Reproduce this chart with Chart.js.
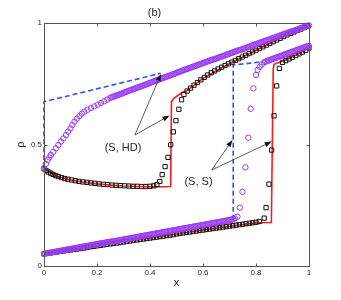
<!DOCTYPE html>
<html><head><meta charset="utf-8">
<script src="https://cdn.jsdelivr.net/npm/chart.js@4/dist/chart.umd.min.js"></script>
<style>html,body{margin:0;padding:0;background:#fff}#wrap{width:341px;height:300px;position:relative}</style>
</head><body><div id="wrap"><canvas id="c"></canvas></div>
<script>
// ---------- data ----------
const xTickLabels = ['0','0.2','0.4','0.6','0.8','1'];
const yTickLabels = ['0','0.5','1'];

// (S, HD): open purple circles
const hdCircX = [0,0.007,0.014,0.02,0.026,0.035,0.045,0.054,0.064,0.073,0.083,0.091,0.1,0.107,0.115,0.124,0.134,0.143,0.152,0.164,0.177,0.19,0.203,0.215,0.227,0.239,
  0.250,0.255,0.260,0.265,0.270,0.275,0.280,0.285,0.290,0.295,0.300,0.305,0.310,0.315,0.320,0.325,0.330,0.335,0.340,0.345,
  0.350,0.355,0.360,0.365,0.370,0.375,0.380,0.385,0.390,0.395,0.400,0.405,0.410,0.415,0.420,0.425,0.430,0.435,0.440,0.445,
  0.450,0.455,0.460,0.465,0.470,0.475,0.480,0.485,0.490,0.495,0.500,0.505,0.510,0.515,0.520,0.525,0.530,0.535,0.540,0.545,
  0.550,0.555,0.560,0.565,0.570,0.575,0.580,0.585,0.590,0.595,0.600,0.605,0.610,0.615,0.620,0.625,0.630,0.635,0.640,0.645,
  0.650,0.655,0.660,0.665,0.670,0.675,0.680,0.685,0.690,0.695,0.700,0.705,0.710,0.715,0.720,0.725,0.730,0.735,0.740,0.745,
  0.750,0.755,0.760,0.765,0.770,0.775,0.780,0.785,0.790,0.795,0.800,0.805,0.810,0.815,0.820,0.825,0.830,0.835,0.840,0.845,
  0.850,0.855,0.860,0.865,0.870,0.875,0.880,0.885,0.890,0.895,0.900,0.905,0.910,0.915,0.920,0.925,0.930,0.935,0.940,0.945,
  0.950,0.955,0.960,0.965,0.970,0.975,0.980,0.985,0.990,0.995,1.000];
const hdCircY = [0.402,0.42,0.436,0.447,0.457,0.47,0.484,0.498,0.512,0.525,0.539,0.553,0.566,0.58,0.594,0.606,0.617,0.627,0.635,0.643,0.650,0.657,0.664,0.671,0.678,0.685,
  0.692,0.694,0.696,0.698,0.700,0.702,0.704,0.706,0.708,0.710,0.713,0.715,0.717,0.719,0.721,0.723,0.725,0.727,0.729,0.731,
  0.733,0.735,0.737,0.739,0.741,0.743,0.745,0.747,0.749,0.751,0.754,0.756,0.758,0.760,0.762,0.764,0.766,0.768,0.770,0.772,
  0.774,0.776,0.778,0.780,0.782,0.784,0.786,0.788,0.790,0.792,0.795,0.797,0.799,0.801,0.803,0.805,0.807,0.809,0.811,0.813,
  0.815,0.817,0.819,0.821,0.823,0.825,0.827,0.829,0.831,0.833,0.835,0.837,0.839,0.841,0.843,0.845,0.847,0.849,0.850,0.852,
  0.854,0.856,0.858,0.860,0.862,0.864,0.866,0.868,0.870,0.872,0.874,0.876,0.878,0.880,0.882,0.884,0.886,0.888,0.889,0.891,
  0.893,0.895,0.897,0.899,0.901,0.903,0.905,0.907,0.909,0.911,0.913,0.915,0.917,0.919,0.921,0.923,0.925,0.927,0.928,0.930,
  0.932,0.934,0.936,0.938,0.940,0.942,0.944,0.946,0.948,0.950,0.952,0.954,0.956,0.958,0.960,0.962,0.964,0.966,0.967,0.969,
  0.971,0.973,0.975,0.977,0.979,0.981,0.983,0.985,0.987,0.989,0.990];

// (S, HD): open black squares
const hdSqX = [0,0.008,0.016,0.025,0.034,0.044,0.054,0.066,0.078,0.09,0.104,0.118,0.132,0.147,0.162,0.177,0.192,0.208,0.224,0.24,0.256,0.272,0.288,0.304,0.32,0.336,0.352,0.368,0.384,0.4,0.414,0.426,
  0.437,0.446,0.457,0.468,0.478,0.488,0.498,0.509,0.519,0.528,
  0.54,0.553,0.566,0.579,0.592,0.605,0.618,0.631,0.644,0.657,0.67,0.683,0.696,0.709,0.722,0.735,0.748,0.761,0.774,0.787,0.8,0.813,0.826,0.839,0.852,0.865,0.878,0.891,0.904,0.917,0.93,0.943,0.956,0.969,0.982,0.995];
const hdSqY = [0.40,0.393,0.387,0.382,0.377,0.372,0.368,0.364,0.36,0.357,0.354,0.351,0.348,0.346,0.344,0.342,0.34,0.338,0.336,0.335,0.333,0.332,0.331,0.33,0.329,0.328,0.328,0.327,0.327,0.328,0.33,0.335,
  0.348,0.376,0.409,0.447,0.499,0.552,0.598,0.645,0.684,0.706,
  0.72,0.732,0.744,0.755,0.766,0.776,0.786,0.795,0.803,0.811,0.818,0.825,0.832,0.839,0.846,0.853,0.86,0.867,0.874,0.881,0.888,0.895,0.902,0.909,0.916,0.923,0.93,0.937,0.944,0.951,0.957,0.963,0.969,0.975,0.981,0.987];

// (S, HD): red solid line
const hdRedX = [0,0.05,0.1,0.15,0.2,0.25,0.3,0.35,0.4,0.44,0.478,0.481,0.49,0.518,0.54,0.6,0.7,0.8,0.9,1];
const hdRedY = [0.40,0.368,0.354,0.345,0.338,0.333,0.329,0.327,0.326,0.326,0.327,0.676,0.69,0.712,0.722,0.772,0.832,0.888,0.942,0.99];

// (S, HD): blue dashed line
const hdBlueX = [0,0,0.44];
const hdBlueY = [0.402,0.676,0.793];

// (S, S): open purple circles
const ssCircX = [0.000,0.005,0.010,0.015,0.020,0.025,0.030,0.035,0.040,0.045,0.050,0.055,0.060,0.065,0.070,0.075,0.080,0.085,0.090,0.095,
  0.100,0.105,0.110,0.115,0.120,0.125,0.130,0.135,0.140,0.145,0.150,0.155,0.160,0.165,0.170,0.175,0.180,0.185,0.190,0.195,
  0.200,0.205,0.210,0.215,0.220,0.225,0.230,0.235,0.240,0.245,0.250,0.255,0.260,0.265,0.270,0.275,0.280,0.285,0.290,0.295,
  0.300,0.305,0.310,0.315,0.320,0.325,0.330,0.335,0.340,0.345,0.350,0.355,0.360,0.365,0.370,0.375,0.380,0.385,0.390,0.395,
  0.400,0.405,0.410,0.415,0.420,0.425,0.430,0.435,0.440,0.445,0.450,0.455,0.460,0.465,0.470,0.475,0.480,0.485,0.490,0.495,
  0.500,0.505,0.510,0.515,0.520,0.525,0.530,0.535,0.540,0.545,0.550,0.555,0.560,0.565,0.570,0.575,0.580,0.585,0.590,0.595,
  0.600,0.605,0.610,0.615,0.620,0.625,0.630,0.635,0.640,0.645,0.650,0.655,0.660,0.665,0.670,0.675,0.680,0.685,0.690,0.695,
  0.700,0.705,0.710,0.715,0.720,
  0.73,0.739,0.749,0.76,0.771,0.78,0.79,0.80,0.806,0.814,0.822,
  0.830,0.835,0.840,0.845,0.850,0.855,0.860,0.865,0.870,0.875,0.880,0.885,0.890,0.895,0.900,0.905,0.910,0.915,0.920,0.925,
  0.930,0.935,0.940,0.945,0.950,0.955,0.960,0.965,0.970,0.975,0.980,0.985,0.990,0.995,1.000];
const ssCircY = [0.050,0.051,0.052,0.053,0.054,0.055,0.056,0.057,0.058,0.059,0.060,0.061,0.062,0.063,0.064,0.065,0.066,0.067,0.068,0.069,
  0.070,0.071,0.072,0.073,0.074,0.075,0.076,0.077,0.078,0.079,0.080,0.081,0.082,0.083,0.084,0.085,0.086,0.087,0.088,0.089,
  0.090,0.091,0.092,0.093,0.094,0.095,0.096,0.097,0.098,0.099,0.100,0.100,0.101,0.102,0.103,0.104,0.105,0.106,0.107,0.108,
  0.109,0.110,0.111,0.112,0.113,0.114,0.115,0.116,0.117,0.118,0.119,0.120,0.121,0.122,0.123,0.124,0.125,0.126,0.127,0.128,
  0.129,0.130,0.131,0.132,0.133,0.134,0.135,0.136,0.137,0.138,0.139,0.140,0.141,0.142,0.143,0.144,0.145,0.146,0.147,0.148,
  0.149,0.150,0.151,0.152,0.153,0.154,0.155,0.156,0.157,0.158,0.159,0.160,0.161,0.162,0.163,0.164,0.165,0.166,0.167,0.168,
  0.169,0.170,0.171,0.172,0.173,0.174,0.175,0.176,0.177,0.178,0.179,0.180,0.181,0.182,0.183,0.184,0.185,0.186,0.187,0.188,
  0.189,0.190,0.192,0.194,0.196,
  0.203,0.24,0.305,0.406,0.528,0.647,0.731,0.786,0.807,0.82,0.829,
  0.838,0.840,0.843,0.845,0.847,0.849,0.851,0.853,0.855,0.857,0.859,0.861,0.863,0.865,0.867,0.869,0.871,0.873,0.875,0.877,
  0.879,0.881,0.883,0.885,0.887,0.889,0.891,0.893,0.895,0.897,0.899,0.901,0.903,0.905,0.906];

// (S, S): open black squares
const ssSqX = [0,0.0125,0.025,0.0375,0.05,0.0625,0.075,0.0875,0.1,0.1125,0.125,0.1375,0.15,0.1625,0.175,0.1875,0.2,0.2125,0.225,0.2375,0.25,0.2625,0.275,0.2875,0.3,0.3125,0.325,0.3375,
  0.35,0.3625,0.375,0.3875,0.4,0.4125,0.425,0.4375,0.45,0.4625,0.475,0.4875,0.5,0.5125,0.525,0.5375,0.55,0.5625,0.575,0.5875,0.6,0.6125,0.625,0.6375,
  0.65,0.6625,0.675,0.6875,0.7,0.7125,0.725,0.7375,0.75,0.7625,0.775,0.7875,0.8,0.8125,
  0.831,0.838,0.849,0.859,0.868,0.878,0.888,0.9,
  0.9125,0.925,0.9375,0.95,0.9625,0.975,0.9875,1.0];
const ssSqY = [0.050,0.052,0.054,0.056,0.058,0.060,0.062,0.064,0.066,0.068,0.070,0.072,0.074,0.076,0.079,0.081,0.083,0.085,0.087,0.089,0.091,0.093,0.095,0.097,0.099,0.101,0.103,0.105,
  0.107,0.109,0.111,0.113,0.115,0.117,0.119,0.121,0.123,0.125,0.127,0.129,0.132,0.134,0.136,0.138,0.140,0.142,0.144,0.146,0.148,0.150,0.152,0.154,
  0.156,0.158,0.160,0.162,0.164,0.166,0.168,0.170,0.172,0.174,0.176,0.178,0.180,0.183,
  0.197,0.24,0.337,0.477,0.618,0.741,0.813,0.838,
  0.845,0.852,0.859,0.866,0.873,0.880,0.887,0.897];

// (S, S): red solid line
const ssRedX = [0,0.2,0.4,0.6,0.8,0.858,0.865,0.868,0.9,0.95,1];
const ssRedY = [0.05,0.083,0.115,0.148,0.178,0.179,0.81,0.83,0.843,0.868,0.897];

// (S, S): blue dashed line
const ssBlueX = [0.714,0.714,0.822];
const ssBlueY = [0.19,0.827,0.84];

// annotations (data coordinates)
const hdLabel = {text:'(S, HD)', x:0.298, y:0.486};
const hdArrowFrom = [0.343,0.539];
const hdArrowTo = [[0.4415,0.79],[0.4736,0.619]];
const ssLabel = {text:'(S, S)', x:0.583, y:0.346};
const ssArrowFrom = [0.633,0.395];
const ssArrowTo = [[0.711,0.519],[0.859,0.512]];

// ---------- chart ----------
const FONT = "'Liberation Sans', Arial, Helvetica, sans-serif";
const zip = (xs, ys) => xs.map((x, i) => ({x: x, y: ys[i]}));
const PURPLE = '#9b3cf5', BLUE = '#2a56f5', RED = '#ff1a1a', BLACK = '#111111';

function circles(xs, ys) {
  return {data: zip(xs, ys), showLine: false, pointStyle: 'circle', pointRadius: 2.7,
    pointBorderWidth: 1, pointBorderColor: PURPLE, pointBackgroundColor: 'rgba(0,0,0,0)', clip: false, order: 0};
}
function squares(xs, ys) {
  return {data: zip(xs, ys), showLine: false, pointStyle: 'rect', pointRadius: 3,
    pointBorderWidth: 1, pointBorderColor: BLACK, pointBackgroundColor: 'rgba(0,0,0,0)', clip: false, order: 1};
}
function line(xs, ys, color, dash, ord) {
  return {data: zip(xs, ys), showLine: true, borderColor: color, borderWidth: 1.6, borderDash: dash,
    pointRadius: 0, tension: 0, fill: false, clip: false, order: ord};
}

const framePlugin = {
  id: 'frame',
  afterDatasetsDraw(chart) {
    const {ctx, chartArea: a, scales: {x, y}} = chart;
    ctx.save();
    // annotations
    ctx.strokeStyle = '#333'; ctx.fillStyle = '#111'; ctx.lineWidth = 0.8;
    const arrow = (from, to) => {
      const x0 = x.getPixelForValue(from[0]), y0 = y.getPixelForValue(from[1]);
      const x1 = x.getPixelForValue(to[0]), y1 = y.getPixelForValue(to[1]);
      const ang = Math.atan2(y1 - y0, x1 - x0), L = 7, W = 2.6;
      const bx = x1 - L * Math.cos(ang), by = y1 - L * Math.sin(ang);
      ctx.beginPath(); ctx.moveTo(x0, y0); ctx.lineTo(bx, by); ctx.stroke();
      ctx.beginPath(); ctx.moveTo(x1, y1);
      ctx.lineTo(bx + W * Math.sin(ang), by - W * Math.cos(ang));
      ctx.lineTo(bx - W * Math.sin(ang), by + W * Math.cos(ang));
      ctx.closePath(); ctx.fill();
    };
    hdArrowTo.forEach(t => arrow(hdArrowFrom, t));
    ssArrowTo.forEach(t => arrow(ssArrowFrom, t));
    ctx.font = '11px ' + FONT; ctx.fillStyle = '#262626';
    ctx.textAlign = 'center'; ctx.textBaseline = 'middle';
    [hdLabel, ssLabel].forEach(l => ctx.fillText(l.text, x.getPixelForValue(l.x), y.getPixelForValue(l.y)));
    // box
    ctx.strokeStyle = '#555'; ctx.lineWidth = 1;
    const L = Math.round(a.left) + 0.5, R = Math.round(a.right) + 0.5, T = Math.round(a.top) + 0.5, B = Math.round(a.bottom) + 0.5;
    ctx.strokeRect(L, T, R - L, B - T);
    // inward ticks
    ctx.beginPath();
    x.ticks.forEach(t => {
      const px = Math.round(x.getPixelForValue(t.value)) + 0.5;
      ctx.moveTo(px, B); ctx.lineTo(px, B - 3);
      ctx.moveTo(px, T); ctx.lineTo(px, T + 3);
    });
    y.ticks.forEach(t => {
      const py = Math.round(y.getPixelForValue(t.value)) + 0.5;
      ctx.moveTo(L, py); ctx.lineTo(L + 3, py);
      ctx.moveTo(R, py); ctx.lineTo(R - 3, py);
    });
    ctx.stroke();
    ctx.restore();
  }
};

new Chart(document.getElementById('c'), {
  type: 'scatter',
  data: {datasets: [
    circles(hdCircX, hdCircY),
    circles(ssCircX, ssCircY),
    squares(hdSqX, hdSqY),
    squares(ssSqX, ssSqY),
    line(hdRedX, hdRedY, RED, [], 2),
    line(ssRedX, ssRedY, RED, [], 2),
    line(hdBlueX, hdBlueY, BLUE, [5, 3], 3),
    line(ssBlueX, ssBlueY, BLUE, [5, 3], 3)
  ]},
  options: {
    responsive: true, maintainAspectRatio: false, animation: false, devicePixelRatio: 1,
    events: [],
    layout: {padding: {left: 0, right: 32, top: 0, bottom: 0}},
    plugins: {
      legend: {display: false}, tooltip: {enabled: false},
      title: {display: true, text: '(b)', color: '#262626', font: {family: FONT, size: 11, weight: 'normal'},
        padding: {top: 6.4, bottom: 3.4}}
    },
    scales: {
      x: {type: 'linear', min: 0, max: 1,
        afterFit: s => { s.height = 34; },
        grid: {display: false, drawTicks: false}, border: {display: false},
        ticks: {stepSize: 0.2, padding: 2, maxRotation: 0, color: '#262626', font: {family: FONT, size: 8},
          callback: (v, i) => xTickLabels[i]},
        title: {display: true, text: 'x', color: '#262626', font: {family: FONT, size: 11}, padding: {top: 0, bottom: 10}}
      },
      y: {type: 'linear', min: 0, max: 1,
        afterFit: s => { s.width = 44; },
        grid: {display: false, drawTicks: false}, border: {display: false},
        ticks: {stepSize: 0.5, padding: 2, color: '#262626', font: {family: FONT, size: 8},
          callback: (v, i) => yTickLabels[i]},
        title: {display: true, text: 'ρ', color: '#262626', font: {family: FONT, size: 11}, padding: {top: 14, bottom: 0}}
      }
    }
  },
  plugins: [framePlugin]
});
</script>
</body></html>
